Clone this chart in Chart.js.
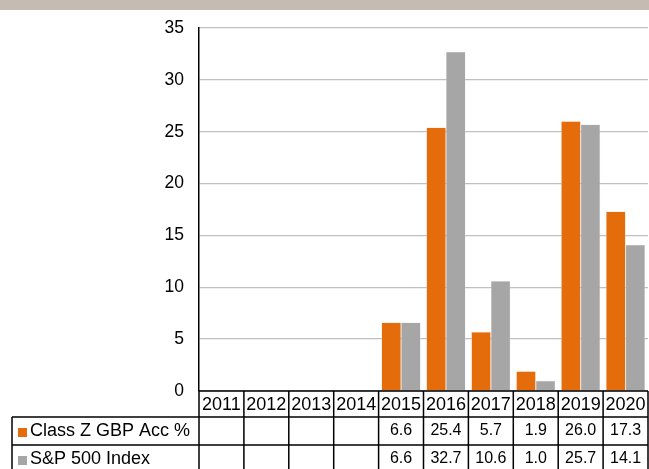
<!DOCTYPE html>
<html>
<head>
<meta charset="utf-8">
<script src="https://cdn.jsdelivr.net/npm/chart.js@4.4.0/dist/chart.umd.min.js"></script>
<style>
  html, body { margin: 0; padding: 0; background: #fff; }
  #wrap { width: 649px; height: 469px; position: relative; }
</style>
</head>
<body>
<div id="wrap"><canvas id="c" width="649" height="469"></canvas></div>
<script>
const categories = ['2011', '2012', '2013', '2014', '2015', '2016', '2017', '2018', '2019', '2020'];
const classZValues = [null, null, null, null, 6.6, 25.4, 5.7, 1.9, 26.0, 17.3];
const sp500Values = [null, null, null, null, 6.6, 32.7, 10.6, 1.0, 25.7, 14.1];
const seriesNames = ['Class Z GBP Acc %', 'S&P 500 Index'];
const seriesColors = ['#e46c0a', '#a6a6a6'];
const yMin = 0, yMax = 35, yStep = 5;

const FONT = '"Liberation Sans", Arial, sans-serif';

const tablePlugin = {
  id: 'dataTable',
  beforeDraw(chart) {
    const ctx = chart.ctx;
    ctx.save();
    ctx.fillStyle = '#fff';
    ctx.fillRect(0, 0, chart.width, chart.height);
    ctx.fillStyle = '#c5bbb2';
    ctx.fillRect(0, 0, chart.width, 10);
    ctx.restore();
  },
  afterDraw(chart) {
    const ctx = chart.ctx;
    const area = chart.chartArea;
    const xs = chart.scales.x;
    const n = categories.length;
    const colW = (area.right - area.left) / n;
    const top = area.bottom;
    const headerBottom = top + 26;
    const row1Bottom = headerBottom + 28;
    const row2Bottom = row1Bottom + 28;
    const labelLeft = 12;

    ctx.save();
    ctx.strokeStyle = '#000';
    ctx.lineWidth = 1.5;
    ctx.beginPath();
    ctx.moveTo(area.left, top); ctx.lineTo(area.right, top);
    ctx.moveTo(labelLeft, headerBottom); ctx.lineTo(area.right, headerBottom);
    ctx.moveTo(labelLeft, row1Bottom); ctx.lineTo(area.right, row1Bottom);
    ctx.moveTo(labelLeft, row2Bottom); ctx.lineTo(area.right, row2Bottom);
    for (let i = 0; i <= n; i++) {
      const cx = (i < n ? xs.getPixelForValue(i) - colW / 2 : xs.getPixelForValue(n - 1) + colW / 2);
      ctx.moveTo(cx, top); ctx.lineTo(cx, row2Bottom);
    }
    ctx.moveTo(labelLeft, headerBottom); ctx.lineTo(labelLeft, row2Bottom);
    ctx.stroke();

    ctx.fillStyle = '#000';
    ctx.textAlign = 'center';
    ctx.textBaseline = 'middle';
    ctx.font = '18px ' + FONT;
    categories.forEach((c, i) => {
      ctx.fillText(c, xs.getPixelForValue(i), (top + headerBottom) / 2 + 1);
    });

    const rows = [classZValues, sp500Values];
    const rowTops = [headerBottom, row1Bottom];
    rows.forEach((vals, r) => {
      const cy = rowTops[r] + 14;
      ctx.font = '16px ' + FONT;
      vals.forEach((v, i) => {
        if (v === null) return;
        ctx.textAlign = 'center';
        ctx.fillText(v.toFixed(1), xs.getPixelForValue(i), cy);
      });
      ctx.fillStyle = seriesColors[r];
      ctx.fillRect(18, cy - 3, 9, 9);
      ctx.fillStyle = '#000';
      ctx.textAlign = 'left';
      ctx.font = '18px ' + FONT;
      ctx.fillText(seriesNames[r], 30, cy);
    });
    ctx.restore();
  }
};

new Chart(document.getElementById('c'), {
  type: 'bar',
  data: {
    labels: categories,
    datasets: [
      { label: seriesNames[0], data: classZValues, backgroundColor: seriesColors[0], borderColor: '#f4c9a6', borderWidth: 0.5 },
      { label: seriesNames[1], data: sp500Values, backgroundColor: seriesColors[1], borderColor: '#dedede', borderWidth: 0.5 }
    ]
  },
  options: {
    responsive: false,
    animation: false,
    devicePixelRatio: 1,
    layout: { padding: { top: 28, bottom: 78, right: 1, left: 0 } },
    datasets: { bar: { categoryPercentage: 0.87, barPercentage: 1.0 } },
    plugins: { legend: { display: false }, tooltip: { enabled: false }, title: { display: false } },
    scales: {
      x: { display: false },
      y: {
        min: yMin, max: yMax,
        ticks: { stepSize: yStep, color: '#000', font: { size: 17.5, family: FONT }, padding: 15 },
        grid: { color: '#c0c0c0', lineWidth: 1.3, drawTicks: false },
        border: { color: '#000', width: 1.5 },
        afterFit(scale) { scale.width = 199; }
      }
    }
  },
  plugins: [tablePlugin]
});
</script>
</body>
</html>
